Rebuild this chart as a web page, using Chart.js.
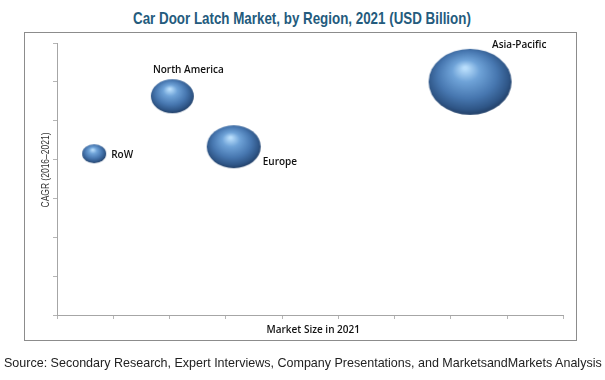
<!DOCTYPE html>
<html>
<head>
<meta charset="utf-8">
<title>Car Door Latch Market, by Region, 2021 (USD Billion)</title>
<script src="https://cdn.jsdelivr.net/npm/chart.js@4.4.0/dist/chart.umd.min.js"></script>
<style>
  html, body { margin: 0; padding: 0; background: #fff; }
  #wrap { position: relative; width: 605px; height: 380px; overflow: hidden; }
  #title {
    position: absolute; left: 133px; top: 9px; white-space: nowrap;
    font: bold 17px "Liberation Sans", Arial, sans-serif;
    color: #245b7d; transform-origin: 0 0;
  }
  #frame {
    position: absolute; left: 24px; top: 32px; width: 553px; height: 309px;
    box-sizing: border-box; border: 1px solid #8c8c8c;
  }
  #source {
    position: absolute; left: 4px; top: 355px; white-space: nowrap;
    font: 13px "Liberation Sans", Arial, sans-serif;
    color: #222; transform-origin: 0 0;
  }
  #chart { position: absolute; left: 0; top: 0; }
</style>
</head>
<body>
<div id="wrap">
  <div id="title">Car Door Latch Market, by Region, 2021 (USD Billion)</div>
  <div id="frame"></div>
  <canvas id="chart" width="605" height="380"></canvas>
  <div id="source">Source: Secondary Research, Expert Interviews, Company Presentations, and MarketsandMarkets Analysis</div>
</div>
<script>
// data (axes carry no tick labels, so units are tick steps)
const regions = ['RoW', 'North America', 'Europe', 'Asia-Pacific'];
const marketSize = [0.66, 2.05, 3.14, 7.34];
const cagr = [4.15, 5.63, 4.33, 6.0];
const bubbleSize = [12, 21.5, 27, 41.5];

const xTitle = 'Market Size in 2021';
const yTitle = 'CAGR (2016\u20132021)';

// where each region's name sits relative to its bubble
const labelSpots = [
    { dx: 17, dy: 1, align: 'left' },
    { dx: 16, dy: -26, align: 'center' },
    { dx: 29, dy: 15, align: 'left' },
    { dx: 22, dy: -37, align: 'left' },
];

// the original uses condensed fonts, squeeze the text to the same width
function squeeze(id, width) {
    const el = document.getElementById(id);
    el.style.transform = 'scaleX(' + (width / el.offsetWidth) + ')';
}
squeeze('title', 338);
squeeze('source', 598);

// shaded "3D" ball sprite, a bit flatter than wide like the original
function makeBall(r) {
    const w = Math.round(r * 2);
    const h = Math.round(r * 1.6);
    const c = document.createElement('canvas');
    c.width = w + 2;
    c.height = h + 2;
    const g = c.getContext('2d');
    g.translate(c.width / 2, c.height / 2);
    g.scale(1, h / w);
    const grad = g.createRadialGradient(-r * 0.12, -r * 0.42, r * 0.04, -r * 0.04, -r * 0.1, r * 1.08);
    grad.addColorStop(0, '#b9defc');
    grad.addColorStop(0.28, '#6fa3d8');
    grad.addColorStop(0.65, '#4777b0');
    grad.addColorStop(0.9, '#2f5687');
    grad.addColorStop(1, '#24436c');
    g.fillStyle = grad;
    g.beginPath();
    g.arc(0, 0, r, 0, Math.PI * 2);
    g.fill();
    return c;
}

const balls = bubbleSize.map(makeBall);

const textPlugin = {
    id: 'textPlugin',
    afterDraw(chart) {
        const ctx = chart.ctx;
        const area = chart.chartArea;
        ctx.save();
        ctx.fillStyle = '#111';
        ctx.textBaseline = 'middle';

        // region names
        ctx.font = '600 10px "Open Sans", sans-serif';
        chart.getDatasetMeta(0).data.forEach((pt, i) => {
            const spot = labelSpots[i];
            ctx.textAlign = spot.align;
            ctx.fillText(regions[i], pt.x + spot.dx, pt.y + spot.dy);
        });

        // axis titles
        ctx.textAlign = 'center';
        ctx.fillText(xTitle, (area.left + area.right) / 2 + 3, area.bottom + 15);

        ctx.font = '11px "Liberation Sans", Arial, sans-serif';
        const yw = ctx.measureText(yTitle).width;
        ctx.translate(46, (area.top + area.bottom) / 2 - 9);
        ctx.rotate(-Math.PI / 2);
        ctx.scale(75 / yw, 1);
        ctx.fillStyle = '#333';
        ctx.fillText(yTitle, 0, 0);
        ctx.restore();
    }
};

new Chart(document.getElementById('chart'), {
    type: 'bubble',
    data: {
        datasets: [{
            label: 'Regions',
            data: regions.map((r, i) => ({ x: marketSize[i], y: cagr[i], r: bubbleSize[i] })),
            pointStyle: (ctx) => balls[ctx.dataIndex],
            backgroundColor: '#4a7ebb',
            borderWidth: 0,
        }]
    },
    options: {
        responsive: false,
        animation: false,
        layout: { padding: { left: 53, right: 41, top: 43, bottom: 61 } },
        plugins: {
            legend: { display: false },
            tooltip: { enabled: false },
        },
        scales: {
            x: {
                type: 'linear',
                min: 0,
                max: 9,
                ticks: { stepSize: 1, display: false },
                grid: { drawOnChartArea: false, tickLength: 4, color: '#b5b5b5' },
                border: { color: '#a6a6a6' },
            },
            y: {
                type: 'linear',
                min: 0,
                max: 7,
                ticks: { stepSize: 1, display: false },
                grid: { drawOnChartArea: false, tickLength: 4, color: '#b5b5b5' },
                border: { color: '#a6a6a6' },
            },
        },
    },
    plugins: [textPlugin],
});
</script>
</body>
</html>
